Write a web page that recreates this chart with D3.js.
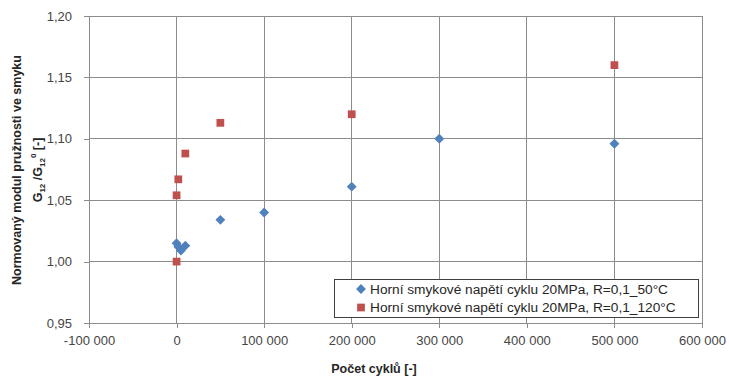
<!DOCTYPE html>
<html>
<head>
<meta charset="utf-8">
<script src="https://cdn.jsdelivr.net/npm/d3@7"></script>
<style>
  html, body { margin: 0; padding: 0; background: #fff; }
  svg { display: block; }
  text { font-family: "Liberation Sans", Arial, sans-serif; }
</style>
</head>
<body>
<svg id="chart" width="729" height="376"></svg>
<script>
// Number of cycles and normalised shear modulus G12/G12^0
const cycles50 = [0, 2000, 5000, 10000, 50000, 100000, 200000, 300000, 500000];
const modulus50 = [1.015, 1.012, 1.009, 1.013, 1.034, 1.040, 1.061, 1.100, 1.096];

const cycles120 = [0, 0, 2000, 10000, 50000, 200000, 500000];
const modulus120 = [1.000, 1.054, 1.067, 1.088, 1.113, 1.120, 1.160];

const seriesNames = [
  "Horní smykové napětí cyklu 20MPa, R=0,1_50°C",
  "Horní smykové napětí cyklu 20MPa, R=0,1_120°C"
];
const xTicks = [-100000, 0, 100000, 200000, 300000, 400000, 500000, 600000];
const yTicks = [0.95, 1.00, 1.05, 1.10, 1.15, 1.20];

const svg = d3.select("#chart");
const plot = { left: 89, right: 702, top: 16, bottom: 323 };

const x = d3.scaleLinear().domain([-100000, 600000]).range([plot.left, plot.right]);
const y = d3.scaleLinear().domain([0.95, 1.20]).range([plot.bottom, plot.top]);

// thousands separated by a space, plain hyphen for negatives
const fmtX = v => d3.format(",")(v).replace(/,/g, " ").replace("\u2212", "-");
const fmtY = v => d3.format(".2f")(v).replace(".", ",");

const gridColor = "#8c8c8c";
const labelColor = "#454545";

// gridlines
svg.append("g")
  .selectAll("line")
  .data(xTicks)
  .join("line")
  .attr("x1", d => x(d)).attr("x2", d => x(d))
  .attr("y1", plot.top).attr("y2", plot.bottom)
  .attr("stroke", gridColor).attr("stroke-width", 1)
  .attr("shape-rendering", "crispEdges");

svg.append("g")
  .selectAll("line")
  .data(yTicks)
  .join("line")
  .attr("x1", plot.left).attr("x2", plot.right)
  .attr("y1", d => y(d)).attr("y2", d => y(d))
  .attr("stroke", gridColor).attr("stroke-width", 1)
  .attr("shape-rendering", "crispEdges");

// axes
const xAxis = d3.axisBottom(x).tickValues(xTicks).tickSize(5).tickPadding(8).tickFormat(fmtX);
const yAxis = d3.axisLeft(y).tickValues(yTicks).tickSize(5).tickPadding(12).tickFormat(fmtY);

const gx = svg.append("g").attr("transform", `translate(0,${plot.bottom})`).call(xAxis);
const gy = svg.append("g").attr("transform", `translate(${plot.left},0)`).call(yAxis);

[gx, gy].forEach(g => {
  g.select(".domain").attr("stroke", gridColor).attr("shape-rendering", "crispEdges");
  g.selectAll(".tick line").attr("stroke", gridColor).attr("shape-rendering", "crispEdges");
  g.selectAll(".tick text")
    .attr("fill", labelColor)
    .style("font-family", "'Liberation Sans', Arial, sans-serif")
    .style("font-size", "13px");
});

// diamond and square markers
const diamond = d3.symbol().type(d3.symbolDiamond2).size(62);
const square = d3.symbol().type(d3.symbolSquare).size(60);

svg.append("g")
  .selectAll("path")
  .data(cycles50.map((c, i) => [c, modulus50[i]]))
  .join("path")
  .attr("d", diamond)
  .attr("transform", d => `translate(${x(d[0])},${y(d[1])})`)
  .attr("fill", "#4f81bd");

svg.append("g")
  .selectAll("path")
  .data(cycles120.map((c, i) => [c, modulus120[i]]))
  .join("path")
  .attr("d", square)
  .attr("transform", d => `translate(${x(d[0])},${y(d[1])})`)
  .attr("fill", "#c0504d");

// legend
const lg = svg.append("g");
lg.append("rect")
  .attr("x", 334.5).attr("y", 279.5)
  .attr("width", 364).attr("height", 38)
  .attr("fill", "#fff").attr("stroke", "#404040").attr("stroke-width", 1);

const legendRows = [
  { name: seriesNames[0], sym: diamond, color: "#4f81bd", cy: 289 },
  { name: seriesNames[1], sym: square, color: "#c0504d", cy: 307.5 }
];
legendRows.forEach(r => {
  lg.append("path")
    .attr("d", r.sym)
    .attr("transform", `translate(361,${r.cy})`)
    .attr("fill", r.color);
  lg.append("text")
    .attr("x", 370).attr("y", r.cy)
    .attr("dy", "0.35em")
    .attr("fill", "#262626")
    .style("font-size", "13.7px")
    .text(r.name);
});

// axis titles
svg.append("text")
  .attr("x", 374).attr("y", 369)
  .attr("dy", "0.35em")
  .attr("text-anchor", "middle")
  .attr("fill", "#262626")
  .style("font-size", "12.5px")
  .style("font-weight", "bold")
  .text("Počet cyklů [-]");

const yTitle = svg.append("g").attr("transform", "translate(0,170) rotate(-90)");
yTitle.append("text")
  .attr("x", 0).attr("y", 17)
  .attr("dy", "0.35em")
  .attr("text-anchor", "middle")
  .attr("fill", "#262626")
  .style("font-size", "12.5px")
  .style("font-weight", "bold")
  .text("Normovaný modul pružnosti ve smyku");

const t2 = yTitle.append("text")
  .attr("x", 0).attr("y", 38)
  .attr("dy", "0.35em")
  .attr("text-anchor", "middle")
  .attr("fill", "#262626")
  .style("font-size", "12.5px")
  .style("font-weight", "bold");
t2.append("tspan").text("G");
t2.append("tspan").attr("dy", "3").style("font-size", "8px").text("12");
t2.append("tspan").attr("dy", "-3").text(" /G");
t2.append("tspan").attr("dy", "3").style("font-size", "8px").text("12");
t2.append("tspan").attr("dy", "-9").style("font-size", "8px").text("0");
t2.append("tspan").attr("dy", "6").text(" [-]");
</script>
</body>
</html>
